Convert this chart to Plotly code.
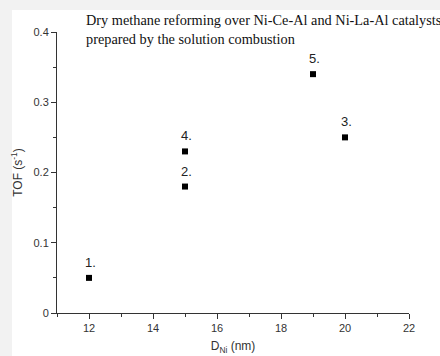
import plotly.graph_objects as go

d_ni = [12, 15, 20, 15, 19]
tof = [0.05, 0.18, 0.25, 0.23, 0.34]
labels = ["1.", "2.", "3.", "4.", "5."]

W, H = 440, 356
L, R, T, B = 57, 31, 32, 43
pw, ph = W - L - R, H - T - B

def px_x(px):
    return (px - L) / pw

def px_y(py):
    return (H - B - py) / ph

fig = go.Figure()
fig.add_trace(go.Scatter(
    x=d_ni, y=tof, mode="markers",
    marker=dict(symbol="square", size=6, color="black"),
    cliponaxis=False, showlegend=False,
))
for xv, yv, lb in zip(d_ni, tof, labels):
    fig.add_annotation(x=xv, y=yv, text=lb, showarrow=False,
                       yanchor="bottom", xanchor="center", yshift=6, xshift=1,
                       font=dict(family="Liberation Sans, Arial", size=13, color="#222"))

fig.add_shape(type="rect", xref="paper", yref="paper", layer="below",
              x0=px_x(12), x1=px_x(W + 5), y0=px_y(H + 5), y1=px_y(10),
              fillcolor="white", line=dict(width=0))

fig.add_annotation(
    xref="paper", yref="paper", x=px_x(84), y=px_y(10),
    xanchor="left", yanchor="top", align="left", showarrow=False,
    text="Dry methane reforming over Ni-Ce-Al and Ni-La-Al catalysts<br>prepared by the solution combustion",
    font=dict(family="Liberation Serif, Times New Roman", size=14.3, color="#111"),
)

axis_common = dict(
    showgrid=False, zeroline=False, showline=True, linecolor="#333", linewidth=1,
    ticks="outside", ticklen=5, tickcolor="#333", tickwidth=1, automargin=False,
    tickfont=dict(family="Liberation Sans, Arial", size=11, color="#333"),
    minor=dict(ticks="outside", ticklen=3, tickcolor="#333", tickwidth=1),
)

fig.update_xaxes(range=[11, 22], tickvals=[12, 14, 16, 18, 20, 22],
                 minor_dtick=1, minor_tick0=11,
                 title=dict(text="D<sub>Ni</sub> (nm)", standoff=8,
                            font=dict(family="Liberation Sans, Arial", size=12, color="#333")),
                 **axis_common)
fig.update_yaxes(range=[0, 0.4], tickvals=[0, 0.1, 0.2, 0.3, 0.4],
                 ticktext=["0", "0.1", "0.2", "0.3", "0.4"],
                 minor_dtick=0.05, minor_tick0=0,
                 title=dict(text="TOF (s<sup>-1</sup>)", standoff=8,
                            font=dict(family="Liberation Sans, Arial", size=12, color="#333")),
                 **axis_common)

fig.update_layout(
    width=W, height=H, margin=dict(l=L, r=R, t=T, b=B),
    paper_bgcolor="#f2f2f2", plot_bgcolor="white",
)

fig.write_html("out.html")
